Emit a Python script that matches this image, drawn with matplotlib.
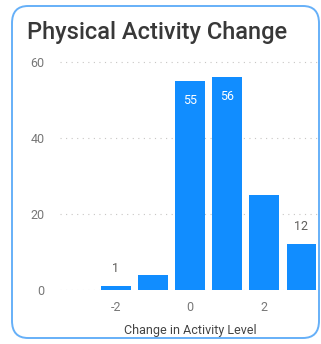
import matplotlib
matplotlib.use("Agg")
import matplotlib.pyplot as plt
from matplotlib.patches import FancyBboxPatch

# activity level change vs count
levels = [-2, -1, 0, 1, 2, 3]
counts = [1, 4, 55, 56, 25, 12]
labelled = {-2: "out", 0: "in", 1: "in", 3: "out"}
yticks = [0, 20, 40, 60]
xticks = [-2, 0, 2]

W, H = 321, 344
plt.rcParams['font.family'] = ['Roboto', 'DejaVu Sans']
plt.rcParams['axes.unicode_minus'] = False
fig = plt.figure(figsize=(W / 100, H / 100), dpi=100)

# card outline
card = FancyBboxPatch((12 / W, 6 / H), 307 / W, 332 / H,
                      boxstyle="round,pad=0,rounding_size=0.05",
                      transform=fig.transFigure, facecolor="white",
                      edgecolor="#66b0f8", linewidth=1.4, zorder=-5)
fig.patches.append(card)

fig.text(27 / W, 1 - 33 / H, "Physical Activity Change", fontsize=17,
         color="#383838", va="center", ha="left", weight="medium")

ax = fig.add_axes([60 / W, 1 - 290 / H, 260 / W, 232 / H])
ax.set_zorder(2)
ax.set_facecolor("none")
blue = "#118DFF"
bars = ax.bar(levels, counts, width=0.8, color=blue, zorder=2)

for x, v in zip(levels, counts):
    where = labelled.get(x)
    if where == "in":
        ax.text(x, v - 3.5, str(v), ha="center", va="top", color="white", fontsize=9)
    elif where == "out":
        ax.text(x, v + 3, str(v), ha="center", va="bottom", color="#605e5c", fontsize=9)

ax.set_xlim(-3.5, 3.5)
ax.set_ylim(0, 61)
ax.set_yticks(yticks)
ax.set_xticks(xticks)
ax.grid(axis="y", linestyle=(0, (1, 4)), color="#c8c6c4", linewidth=0.8, zorder=0)
ax.tick_params(length=0, labelsize=9, labelcolor="#777777")
ax.tick_params(axis="x", pad=8)
ax.tick_params(axis="y", pad=11)
for s in ax.spines.values():
    s.set_visible(False)
ax.set_xlabel("Change in Activity Level", fontsize=9, color="#444444", labelpad=7)

fig.savefig("out.png", dpi=100)
